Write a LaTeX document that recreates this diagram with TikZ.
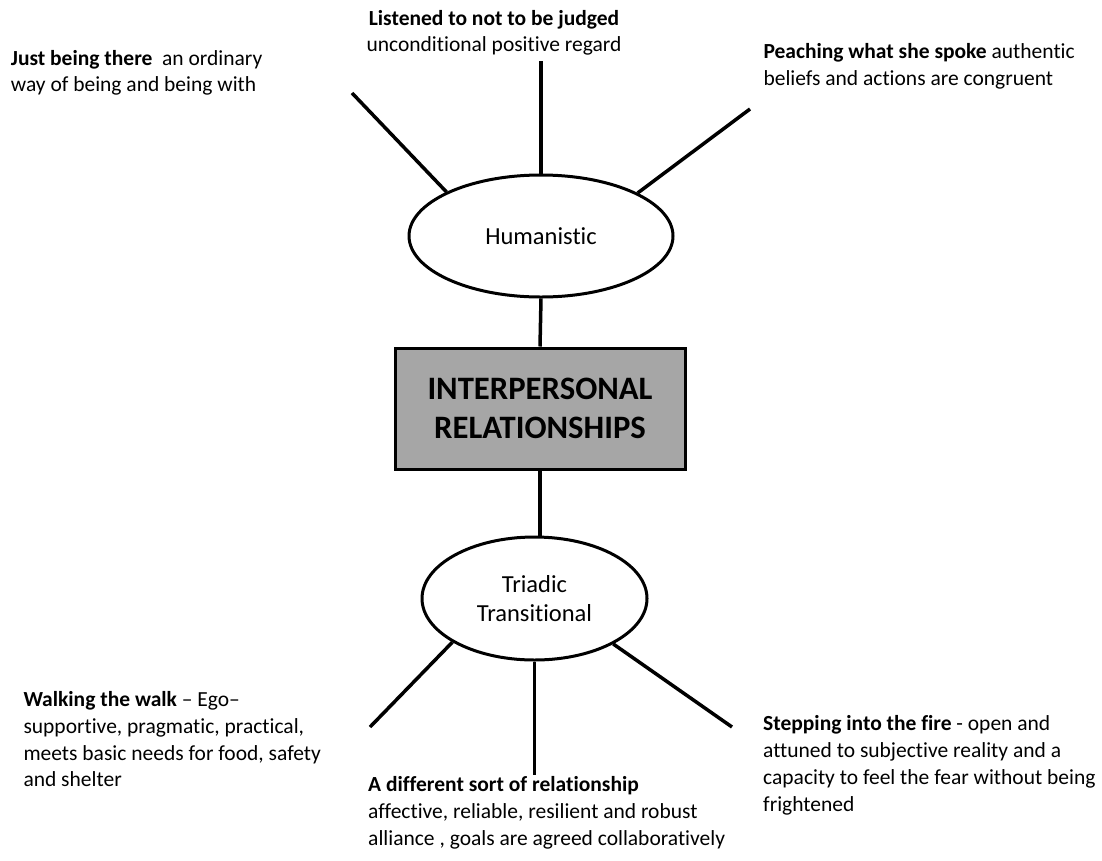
\documentclass[tikz,border=0pt]{standalone}
\usepackage{fontspec}
\setmainfont{Carlito}[Ligatures=NoCommon]
\usetikzlibrary{shapes.geometric}

\tikzset{
  bubble/.style={draw=black, line width=3pt, ellipse, fill=white, inner sep=0pt,
                 align=center, font=\fontsize{24.5}{29.7}\selectfont},
  corebox/.style={draw=black, line width=3pt, fill=black!35, inner sep=0pt,
                  align=center, font=\fontsize{32.7}{38.3}\selectfont\bfseries},
  spoke/.style={line width=3.5pt},
  note/.style={inner sep=0pt, align=left, font=\fontsize{21.5}{26.7}\selectfont},
}

\begin{document}
\begin{tikzpicture}[x=1pt, y=-1pt]
  \useasboundingbox (0,0) rectangle (1102,860);

  % central theme and the two orientations
  \node[corebox, minimum width=290pt, minimum height=121pt] (core) at (540,408.5)
       {INTERPERSONAL\\RELATIONSHIPS};
  \node[bubble, minimum width=264pt, minimum height=122pt] (hum) at (541,236) {Humanistic};
  \node[bubble, minimum width=225pt, minimum height=123pt] (tri) at (534.5,598.5)
       {Triadic\\Transitional};

  \draw[spoke] (hum.south) -- (core.north);
  \draw[spoke] (core.south) -- (core.south |- tri.north);

  % free ends of the spokes
  \coordinate (hl) at (352,93);
  \coordinate (hc) at (541,61);
  \coordinate (hr) at (750,109);
  \coordinate (tl) at (370,727);
  \coordinate (tc) at (534.5,775);
  \coordinate (tr) at (732,727);

  \draw[spoke] (hum.155.4) -- (hl);
  \draw[spoke] (hum.north) -- (hc);
  \draw[spoke] (hum.24.8) -- (hr);
  \draw[spoke] (tri.208.6) -- (tl);
  \draw[spoke] (tri.south) -- (tc);
  \draw[spoke] (tri.330.8) -- (tr);

  % descriptions (anchored at the baseline of their last line)
  \node[note, anchor=base west] (just) at (10.7,91.7)
       {\textbf{Just being there}~ an ordinary\\way of being and being with};
  \node[note, align=center, anchor=base] (listen) at (494,51.7)
       {\textbf{Listened to not to be judged}\\unconditional positive regard};
  \node[note, anchor=base west] (preach) at (763.3,85)
       {\textbf{Peaching what she spoke} authentic\\beliefs and actions are congruent};
  \node[note, anchor=base west] (walk) at (23.3,786.7)
       {\textbf{Walking the walk} – Ego–\\supportive, pragmatic, practical,\\meets basic needs for food, safety\\and shelter};
  \node[note, anchor=base west] (diff) at (368,845)
       {\textbf{A different sort of relationship}\\affective, reliable, resilient and robust\\alliance , goals are agreed collaboratively};
  \node[note, anchor=base west] (fire) at (763,811)
       {\textbf{Stepping into the fire} - open and\\attuned to subjective reality and a\\capacity to feel the fear without being\\frightened};
\end{tikzpicture}
\end{document}
